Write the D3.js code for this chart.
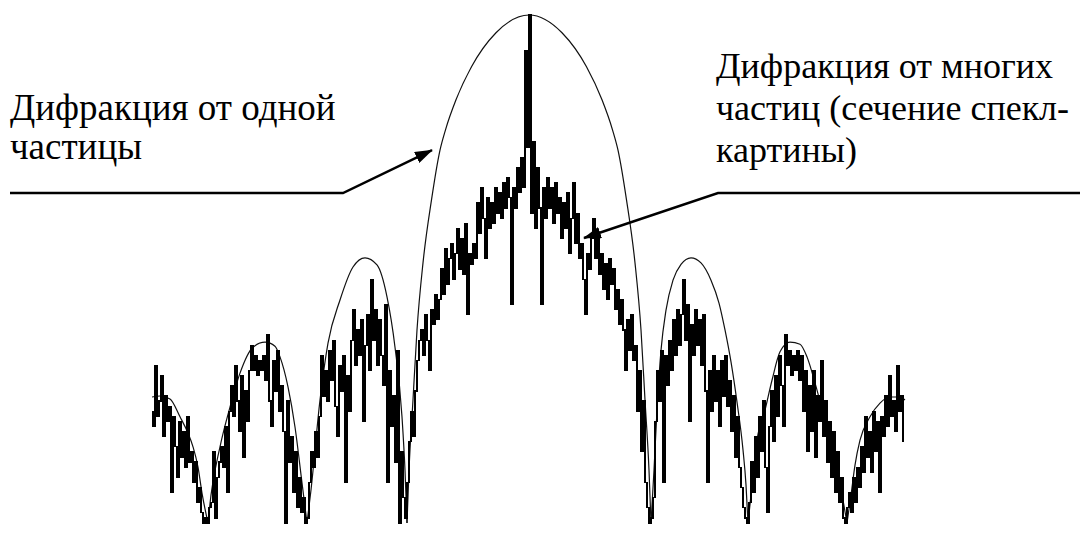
<html>
    <head>
        <title>Дифракция</title>
        <style type="text/css">
            body{
                padding: 0px;
                margin: 0px;
                background: #fff;
            }
            svg{
                width: 1087px;
                height: 533px;
                display: block;
            }
            .envelope{
                fill: none;
                stroke: #111;
                stroke-width: 1.2px;
            }
            .speckle{
                fill: none;
                stroke: #000;
                stroke-width: 1.2px;
                shape-rendering: crispEdges;
            }
            .leader{
                fill: none;
                stroke: #000;
                stroke-width: 2.4px;
            }
        </style>
        <script src="https://d3js.org/d3.v7.min.js"></script>
        <script type="text/javascript">
            // x: sample number along the cut (one sample = 2 px of the scan)
            // level: relative log intensity, 0 = floor, 100 = central maximum

            // single particle diffraction, lobes split where level = 0
            envelopeX = [0, 4, 9, 14, 18, 20.5, 23, 25, 28,
                29.5, 34, 39, 44, 50.5, 56.5, 61.5, 64, 68, 71.5, 75, 77.5,
                79.5, 84, 88, 94, 100.5, 106.5, 112.5, 117.5, 121.5, 125, 126.5, 127.5,
                128.5, 130.5, 132.5, 135.5, 139.75, 144, 146.75, 152, 159.75, 172, 188.5, 205, 217.25, 225, 230.25, 233, 237.25, 241.5, 244.5, 246.5, 248.5, 249.5,
                251, 252.5, 254.5, 257, 260.5, 264.5, 269.5, 274.5, 279.5, 283.5, 286.5, 289.5, 292.5, 295.5, 297, 298,
                300, 302.5, 306.5, 310, 314, 319, 324, 327.5, 331.5, 335.5, 339, 343, 345.5, 347.5,
                349.5, 351.5, 354, 359, 364, 369, 374, 376.5];
            envelopeLevel = [24.8, 25.0, 24.4, 20.9, 17.7, 15.0, 11.0, 5.9, 0,
                5.5, 15.0, 22.8, 29.5, 34.6, 35.6, 34.8, 32.7, 26.8, 18.9, 7.9, 0,
                6.5, 24.2, 35.4, 43.9, 50.4, 52.2, 50.8, 44.5, 34.6, 20.9, 10.4, 0,
                10.4, 24.2, 38.0, 51.2, 63.6, 73.4, 77.4, 83.3, 89.8, 96.5, 100, 96.5, 89.8, 83.3, 77.4, 73.4, 63.6, 51.2, 38.0, 24.2, 10.4, 0,
                10.4, 22.2, 34.0, 41.9, 47.8, 50.9, 52.2, 51.2, 47.8, 43.3, 38.0, 31.7, 23.8, 14.4, 7.5, 0,
                7.3, 16.3, 22.2, 28.1, 33.7, 35.6, 35.2, 32.7, 27.6, 21.7, 16.3, 9.8, 4.5, 0,
                5.5, 11.4, 16.3, 20.9, 23.6, 24.8, 24.8, 24.2];

            // many particles: section of the speckle pattern, samples 0..376
            speckleLevel = [
                22,19,31,21,24,29,17,25,20,23,
                6,21,15,9,20,13,18,11,21,12,
                14,8,12,4,7,2,0,1,0,3,
                4,14,1,9,12,15,11,19,6,22,
                27,21,31,24,18,29,13,26,20,30,
                35,30,33,29,32,30,33,28,37,24,
                19,32,26,34,22,27,18,0,24,12,
                17,6,14,3,9,2,5,0,1,8,
                14,11,18,13,21,33,25,30,24,34,
                28,36,23,17,31,26,33,8,29,22,
                36,42,31,38,33,40,20,35,41,30,
                48,36,42,31,40,33,27,43,8,30,
                19,25,12,34,0,14,5,1,8,16,
                22,17,26,32,36,38,33,41,36,30,
                42,39,45,40,44,50,45,54,47,52,
                55,48,53,58,50,56,49,59,41,53,
                51,55,52,63,57,66,60,52,64,58,
                63,59,66,61,65,60,67,62,68,64,
                43,66,62,70,65,72,66,93,74,100,
                61,75,58,70,62,43,66,60,68,62,
                66,59,67,61,64,56,63,58,65,53,
                60,67,55,61,52,55,48,41,53,50,
                56,60,52,57,49,53,46,51,44,52,
                47,50,42,46,39,44,38,30,40,34,
                41,32,35,22,30,14,24,8,3,0,
                1,5,20,30,24,34,8,33,27,36,
                30,40,33,42,35,41,48,36,43,20,
                39,33,42,35,40,31,41,26,8,30,
                22,33,24,30,19,32,25,33,23,28,
                18,25,13,21,11,7,3,1,0,4,
                12,6,17,9,21,14,24,11,2,19,
                26,16,29,21,33,27,19,37,31,34,
                29,33,30,34,28,33,22,30,14,27,
                18,30,13,25,20,32,17,24,12,20,
                9,18,6,14,4,9,1,0,3,6,
                2,9,4,11,7,15,10,21,13,18,
                10,22,14,20,6,21,17,25,19,29,
                21,24,18,31,22,25,16];

            labelSingle = ["Дифракция от одной", "частицы"];
            labelMany = ["Дифракция от многих", "частиц (сечение спекл-", "картины)"];
            // arrow targets, in data units [sample, level]
            targetSingle = [140, 73.4];
            targetMany = [216, 56.1];

            window.onload = function()
            {
                svg = d3.select("body").append("svg");
                svg.append("rect").attr("width", 1087).attr("height", 533).attr("fill", "#fff");

                x = d3.scaleLinear().domain([0, 376]).range([152, 904]);
                y = d3.scaleLinear().domain([0, 100]).range([523, 15]);

                svg.append("defs").append("marker")
                    .attr("id", "head")
                    .attr("viewBox", "0 0 18 12")
                    .attr("markerUnits", "userSpaceOnUse")
                    .attr("markerWidth", 18).attr("markerHeight", 12)
                    .attr("refX", 17).attr("refY", 6)
                    .attr("orient", "auto")
                    .append("path").attr("d", "M0,0 L18,6 L0,12 z").attr("fill", "#000");

                // split the envelope into lobes at the zeros
                lobes = [];
                cur = [];
                envelopeX.forEach(function(v, i){
                    var p = [v, envelopeLevel[i]];
                    cur.push(p);
                    if(envelopeLevel[i] == 0 && cur.length > 1){
                        lobes.push(cur);
                        cur = [p];
                    }
                });
                if(cur.length > 1) lobes.push(cur);

                lobeLine = d3.line()
                    .x(function(d){ return x(d[0]); })
                    .y(function(d){ return y(d[1]); })
                    .curve(d3.curveMonotoneX);

                svg.selectAll(".envelope").data(lobes).enter().append("path")
                    .attr("class", "envelope")
                    .attr("d", lobeLine);

                speckleLine = d3.line()
                    .x(function(d, i){ return x(i); })
                    .y(function(d){ return y(d); })
                    .curve(d3.curveStep);

                svg.append("path").datum(speckleLevel)
                    .attr("class", "speckle")
                    .attr("d", speckleLine);

                // leaders
                svg.append("path").attr("class", "leader")
                    .attr("d", "M10,193 L343,193 L" + x(targetSingle[0]) + "," + y(targetSingle[1]))
                    .attr("marker-end", "url(#head)");
                svg.append("path").attr("class", "leader")
                    .attr("d", "M1080,193 L718,193 L" + x(targetMany[0]) + "," + y(targetMany[1]))
                    .attr("marker-end", "url(#head)");

                var serif = "'Liberation Serif', 'DejaVu Serif', 'Times New Roman', serif";

                svg.selectAll(".single").data(labelSingle).enter().append("text")
                    .attr("class", "single")
                    .attr("x", 10)
                    .attr("y", function(d, i){ return 120 + i * 39; })
                    .attr("font-family", serif)
                    .attr("font-size", 37)
                    .text(function(d){ return d; });

                svg.selectAll(".many").data(labelMany).enter().append("text")
                    .attr("class", "many")
                    .attr("x", 716)
                    .attr("y", function(d, i){ return 78 + i * 42; })
                    .attr("font-family", serif)
                    .attr("font-size", 36)
                    .text(function(d){ return d; });
            }
        </script>
    </head>
    <body>
    </body>
</html>
